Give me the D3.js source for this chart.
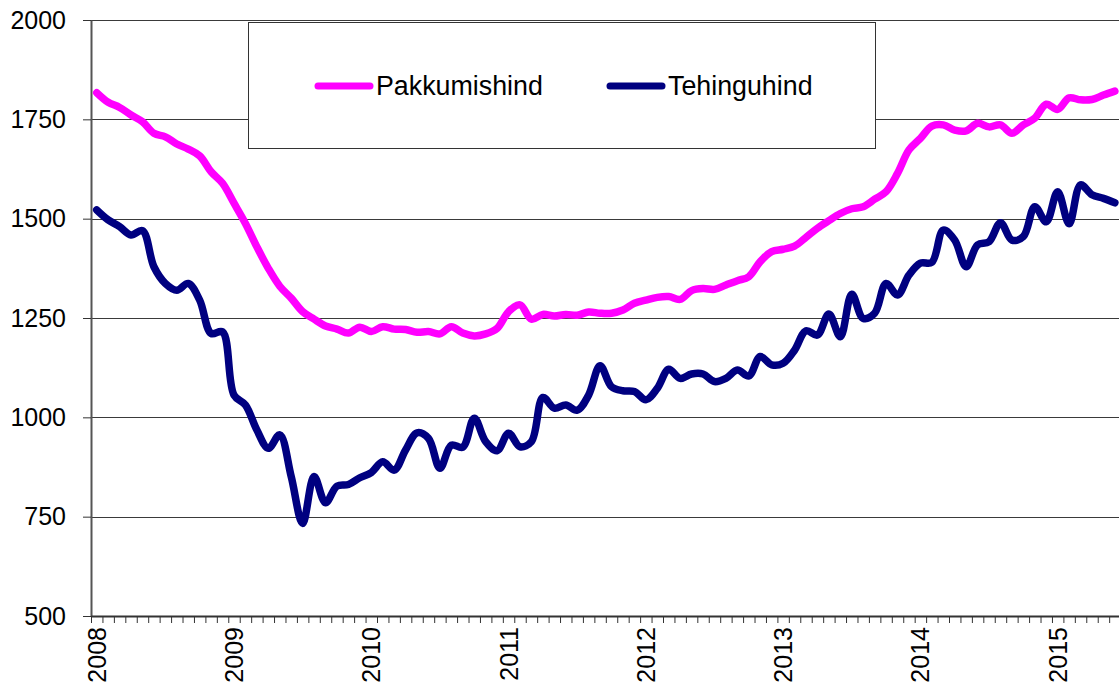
<!DOCTYPE html>
<html>
<head>
<meta charset="utf-8">
<script src="https://cdn.jsdelivr.net/npm/d3@7"></script>
<style>
  body { margin: 0; background: #fff; }
  svg { display: block; font-family: "Liberation Sans", Arial, sans-serif; }
</style>
</head>
<body>
<svg id="chart" width="1119" height="687"></svg>
<script>
// monthly values, Jan 2008 - Jun 2015
const yearLabels = ["2008", "2009", "2010", "2011", "2012", "2013", "2014", "2015"];
const yTicks = [500, 750, 1000, 1250, 1500, 1750, 2000];

const pakkumishind = [
  1817, 1793, 1780, 1761, 1744, 1715, 1706, 1688, 1675, 1658, 1618, 1589,
  1539, 1488, 1429, 1375, 1330, 1300, 1266, 1247, 1230, 1222, 1212, 1227,
  1216, 1228, 1222, 1221, 1214, 1216, 1210, 1228, 1212, 1205, 1210, 1224,
  1266, 1283, 1247, 1259, 1255, 1259, 1257, 1265, 1262, 1262, 1270, 1287,
  1295, 1302, 1304, 1297, 1319, 1324, 1322, 1333, 1344, 1354, 1392, 1417,
  1423, 1431, 1453, 1476, 1495, 1513, 1525, 1530, 1549, 1568, 1614, 1673,
  1702, 1733, 1736, 1723, 1721, 1740, 1731, 1736, 1715, 1736, 1753, 1788,
  1775, 1804, 1799, 1800, 1811, 1821
];

const tehinguhind = [
  1522, 1497, 1480, 1459, 1470, 1379, 1337, 1320, 1337, 1295, 1211, 1215,
  1056, 1031, 968, 922, 956, 851, 733, 851, 785, 827, 831, 848,
  861, 888, 867, 918, 961, 947, 872, 930, 925, 998, 939, 916,
  960, 926, 939, 1050, 1023, 1031, 1018, 1056, 1130, 1077, 1067, 1065,
  1044, 1073, 1121, 1098, 1109, 1109, 1090, 1098, 1119, 1104, 1153, 1132,
  1136, 1169, 1218, 1207, 1260, 1203, 1310, 1249, 1262, 1337, 1308, 1358,
  1388, 1390, 1471, 1446, 1379, 1434, 1442, 1490, 1446, 1455, 1530, 1492,
  1568, 1487, 1585, 1560, 1551, 1540
];

const seriesNames = ["Pakkumishind", "Tehinguhind"];
const seriesColors = ["#ff00ff", "#000080"];

const svg = d3.select("#chart");
const plotLeft = 91, plotRight = 1120.6, plotTop = 20, plotBottom = 616;
const nMonths = pakkumishind.length;

// category edges (Excel style: points sit between tick marks)
const x = d3.scaleLinear().domain([0, nMonths]).range([plotLeft, plotRight]);
const y = d3.scaleLinear().domain([500, 2000]).range([plotBottom, plotTop]);

// grid lines
svg.append("g")
  .selectAll("line")
  .data(yTicks.filter(d => d > 500))
  .enter()
  .append("line")
  .attr("x1", plotLeft).attr("x2", 1119)
  .attr("y1", d => Math.round(y(d)) + 0.5).attr("y2", d => Math.round(y(d)) + 0.5)
  .attr("stroke", "#3a3a3a").attr("stroke-width", 1);

// y axis
const yAxis = svg.append("g")
  .attr("transform", `translate(${plotLeft},0)`)
  .call(d3.axisLeft(y).tickValues(yTicks).tickSize(8).tickSizeOuter(0)
    .tickPadding(17).tickFormat(d3.format("d")));
yAxis.select(".domain").attr("stroke", "#555").attr("stroke-width", 2);
yAxis.selectAll(".tick line").attr("stroke", "#333");
yAxis.selectAll("text").attr("font-size", 25).attr("fill", "#000")
  .attr("font-family", "Liberation Sans, Arial, sans-serif");

// x axis, tick marks every month
const xAxis = svg.append("g")
  .attr("transform", `translate(0,${plotBottom})`)
  .call(d3.axisBottom(x).tickValues(d3.range(0, nMonths + 1)).tickSize(7).tickSizeOuter(0).tickFormat(""));
xAxis.select(".domain").attr("stroke", "#333").attr("stroke-width", 2);
xAxis.selectAll(".tick line").attr("stroke", "#333");

// year labels, rotated
svg.append("g")
  .selectAll("text")
  .data(yearLabels)
  .enter()
  .append("text")
  .attr("transform", (d, i) => `translate(${x(i * 12 + 0.5) + 9},${plotBottom + 11}) rotate(-90)`)
  .attr("text-anchor", "end")
  .attr("font-size", 25)
  .text(d => d);

// legend
const legend = svg.append("g");
legend.append("rect")
  .attr("x", 248.5).attr("y", 22.5).attr("width", 627).attr("height", 126)
  .attr("fill", "#fff").attr("stroke", "#333").attr("stroke-width", 1);
const legendX = [318, 610];
seriesNames.forEach((name, i) => {
  legend.append("line")
    .attr("x1", legendX[i]).attr("x2", legendX[i] + 52)
    .attr("y1", 86).attr("y2", 86)
    .attr("stroke", seriesColors[i]).attr("stroke-width", 7).attr("stroke-linecap", "round");
  legend.append("text")
    .attr("x", legendX[i] + 58).attr("y", 95)
    .attr("font-size", 26.8)
    .text(name);
});

// series lines
const line = d3.line()
  .x((d, i) => x(i + 0.5))
  .y(d => y(d))
  .curve(d3.curveCatmullRom.alpha(0.5));

[pakkumishind, tehinguhind].forEach((data, i) => {
  svg.append("path")
    .datum(data)
    .attr("fill", "none")
    .attr("stroke", seriesColors[i])
    .attr("stroke-width", 7.5)
    .attr("stroke-linecap", "round")
    .attr("stroke-linejoin", "round")
    .attr("d", line);
});
</script>
</body>
</html>
